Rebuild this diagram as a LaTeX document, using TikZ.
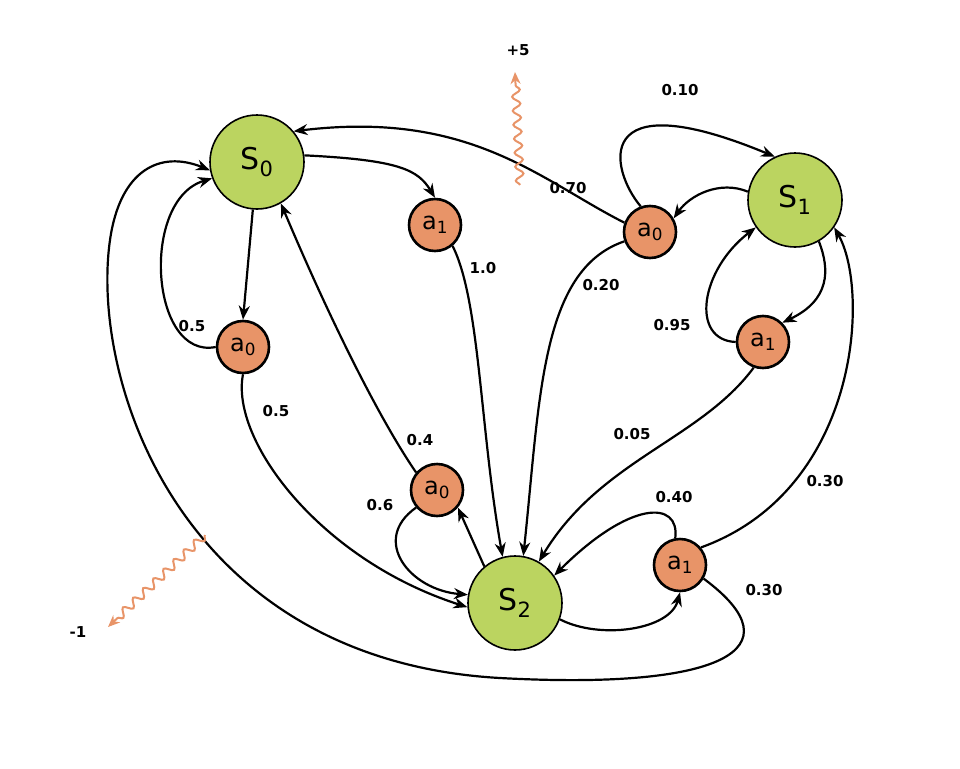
\documentclass[tikz,border=0pt]{standalone}
\usepackage{fontspec}
\setmainfont{DejaVu Sans}
\usetikzlibrary{arrows.meta,decorations.pathmorphing}
\begin{document}
\begin{tikzpicture}[x=1pt,y=-1pt,
  st/.style={circle,draw=black,line width=1.6pt,fill={rgb,255:red,187;green,212;blue,96},minimum size=94pt,inner sep=0pt,font=\fontsize{30}{30}\selectfont},
  act/.style={circle,draw=black,line width=2.6pt,fill={rgb,255:red,232;green,148;blue,104},minimum size=52pt,inner sep=0pt,font=\fontsize{24}{24}\selectfont},
  ed/.style={line width=2.2pt,-{Stealth[length=14pt,width=11pt]}},
  lb/.style={font=\bfseries\fontsize{15}{15}\selectfont},
  rw/.style={draw={rgb,255:red,232;green,148;blue,104},line width=2pt,decorate,decoration={snake,amplitude=4pt,segment length=14pt,post length=10pt},-{Stealth[length=12pt,width=10pt]}}]
\useasboundingbox (0,0) rectangle (960,768);
\node[st] (S0) at (257,162) {S\textsubscript{0}};
\node[st] (S1) at (795,200) {S\textsubscript{1}};
\node[st] (S2) at (515,603) {S\textsubscript{2}};
\node[act] (a1t) at (435,225) {a\textsubscript{1}};
\node[act] (a0l) at (243,347) {a\textsubscript{0}};
\node[act] (a0r) at (650,232) {a\textsubscript{0}};
\node[act] (a1r) at (763,342) {a\textsubscript{1}};
\node[act] (a0m) at (437,490) {a\textsubscript{0}};
\node[act] (a1b) at (680,565) {a\textsubscript{1}};
\coordinate (r5s) at (520,185); \coordinate (r5e) at (515,72);
\coordinate (r1s) at (205,535); \coordinate (r1e) at (108,627);
\draw[ed] (S0.8) .. controls (400,160) and (418,170) .. (a1t.north);
\draw[ed] (S0.265) -- (a0l.north);
\draw[ed] (a0l.west) .. controls (150,360) and (140,200) .. (S0.200);
\draw[ed] (a0l.south) .. controls (230,440) and (320,560) .. (S2.185);
\draw[ed] (a1t.-50) .. controls (480,300) and (480,430) .. (S2.105);
\draw[ed] (a0r.160) .. controls (540,180) and (470,110) .. (S0.40);
\draw[ed] (a0r.110) .. controls (610,170) and (590,80) .. (S1.115);
\draw[ed] (a0r.200) .. controls (540,270) and (540,400) .. (S2.80);
\draw[ed] (S1.170) .. controls (720,180) and (690,195) .. (a0r.30);
\draw[ed] (S1.-60) .. controls (830,270) and (830,300) .. (a1r.45);
\draw[ed] (a1r.180) .. controls (690,340) and (700,270) .. (S1.215);
\draw[ed] (a1r.-110) .. controls (700,440) and (600,460) .. (S2.60);
\draw[ed] (a0m.140) .. controls (380,420) and (330,320) .. (S0.-60);
\draw[ed] (a0m.220) .. controls (370,540) and (410,590) .. (S2.170);
\draw[ed] (S2.130) -- (a0m.-40);
\draw[ed] (S2.-20) .. controls (600,640) and (670,630) .. (a1b.-90);
\draw[ed] (a1b.100) .. controls (680,500) and (630,500) .. (S2.35);
\draw[ed] (a1b.40) .. controls (860,490) and (870,290) .. (S1.-35);
\draw[ed] (a1b.-30) .. controls (800,650) and (720,690) .. (500,678)
  .. controls (180,660) and (90,380) .. (110,240) .. controls (120,170) and (160,150) .. (S0.190);
\draw[rw] (r5s) -- (r5e);
\draw[rw] (r1s) -- (r1e);
\node[lb] (l5) at (518,50) {+5};
\node[lb] (l1) at (78,632) {-1};
\node[lb] (n1) at (192,326) {0.5};
\node[lb] (n2) at (276,411) {0.5};
\node[lb] (n3) at (483,268) {1.0};
\node[lb] (n4) at (568,188) {0.70};
\node[lb] (n5) at (680,90) {0.10};
\node[lb] (n6) at (601,285) {0.20};
\node[lb] (n7) at (672,325) {0.95};
\node[lb] (n8) at (632,434) {0.05};
\node[lb] (n9) at (420,440) {0.4};
\node[lb] (n10) at (380,505) {0.6};
\node[lb] (n11) at (674,497) {0.40};
\node[lb] (n12) at (825,481) {0.30};
\node[lb] (n13) at (764,590) {0.30};
\end{tikzpicture}
\end{document}
